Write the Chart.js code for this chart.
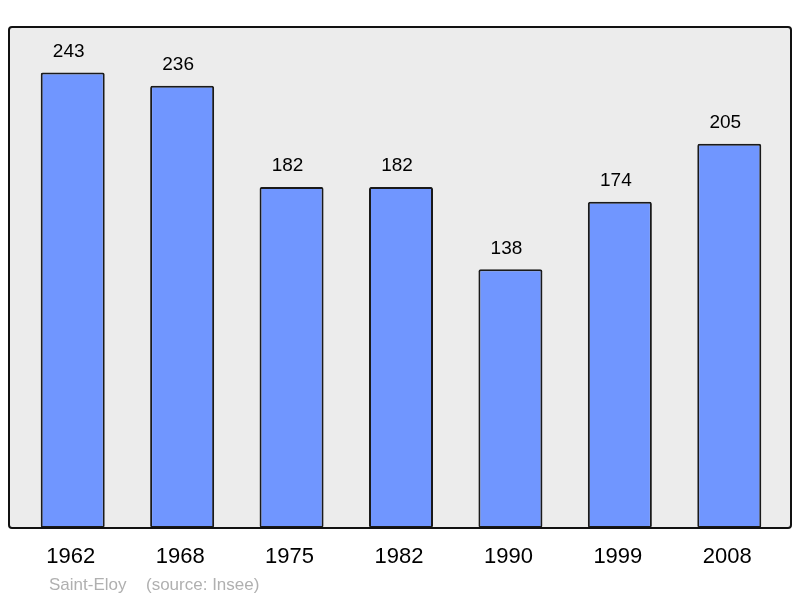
<!DOCTYPE html>
<html>
<head>
<meta charset="utf-8">
<script src="https://cdn.jsdelivr.net/npm/chart.js@4"></script>
<style>
  html, body { margin: 0; padding: 0; background: #fff; }
  #wrap { width: 800px; height: 598px; }
</style>
</head>
<body>
<div id="wrap"><canvas id="myChart" width="800" height="598"></canvas></div>
<script>
const years = ['1962', '1968', '1975', '1982', '1990', '1999', '2008'];
const population = [243, 236, 182, 182, 138, 174, 205];
const placeName = 'Saint-Eloy';
const sourceNote = '(source: Insee)';

const framePlugin = {
    id: 'frame',
    beforeDatasetsDraw: function (chart) {
        const ctx = chart.ctx;
        const a = chart.chartArea;
        const l = a.left - 9, r = a.right + 7, t = a.top, b = a.bottom;
        ctx.save();
        ctx.beginPath();
        ctx.roundRect(l, t, r - l, b - t, 3);
        ctx.fillStyle = '#ececec';
        ctx.fill();
        ctx.restore();
    },
    afterDatasetsDraw: function (chart) {
        const ctx = chart.ctx;
        const a = chart.chartArea;
        const l = a.left - 9, r = a.right + 7, t = a.top, b = a.bottom;
        ctx.save();
        ctx.beginPath();
        ctx.roundRect(l, t, r - l, b - t, 3);
        ctx.lineWidth = 2;
        ctx.strokeStyle = '#111';
        ctx.stroke();

        // value labels
        const meta = chart.getDatasetMeta(0);
        ctx.fillStyle = '#000';
        ctx.font = '19px "Liberation Sans", Arial, sans-serif';
        ctx.textAlign = 'center';
        ctx.textBaseline = 'middle';
        meta.data.forEach(function (bar, i) {
            ctx.fillText(population[i], bar.x - 4, bar.y - 21);
        });

        // footer
        ctx.fillStyle = '#b0b0b0';
        ctx.font = '17px "Liberation Sans", Arial, sans-serif';
        ctx.textAlign = 'left';
        ctx.fillText(placeName, l + 40, 585);
        ctx.fillText(sourceNote, l + 137, 585);
        ctx.restore();
    }
};

const ctx = document.getElementById('myChart').getContext('2d');
const myChart = new Chart(ctx, {
    type: 'bar',
    data: {
        labels: years,
        datasets: [{
            data: population,
            backgroundColor: '#7096ff',
            borderColor: '#1a1a1a',
            borderWidth: 2,
            borderRadius: 2,
            borderSkipped: false,
            barPercentage: 1,
            categoryPercentage: 0.585
        }]
    },
    options: {
        responsive: false,
        animation: false,
        layout: {
            padding: { left: 18, right: 16, top: 27, bottom: 0 }
        },
        scales: {
            x: {
                grid: { display: false },
                border: { display: false },
                ticks: {
                    color: '#000',
                    font: { family: '"Liberation Sans", Arial, sans-serif', size: 22 },
                    padding: 8,
                    labelOffset: -2
                },
                afterFit: function (scale) { scale.height = 70; }
            },
            y: {
                display: false,
                min: 0,
                max: 243 * 1.1
            }
        },
        plugins: {
            legend: { display: false },
            tooltip: { enabled: false }
        }
    },
    plugins: [framePlugin]
});
</script>
</body>
</html>
